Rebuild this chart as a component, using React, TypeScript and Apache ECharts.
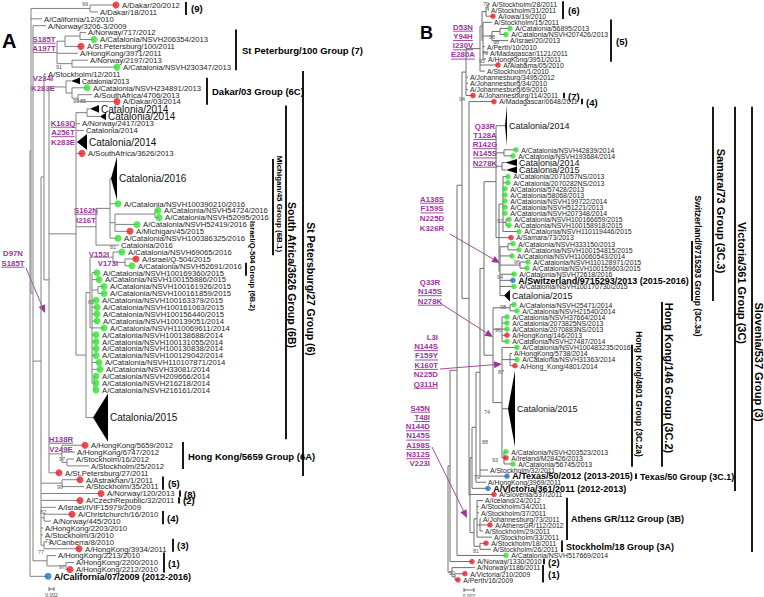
import React, { useEffect, useRef } from "react";
import * as echarts from "echarts";

type TNode = { d: number; c?: TNode[]; n?: string; dot?: string; tip?: number; rows?: number; y?: number; ti?: number };
const N = (d: number, c: TNode[]): TNode => ({ d, c });
const L = (d: number, n: string, dot?: string): TNode => ({ d, n, dot });
const T = (d: number, tip: number, rows: number, n: string): TNode => ({ d, n, tip, rows });

// ---------------- Panel A (depth = 0.001 substitutions/site from root) ----------------
const groupA7 = N(10.8, [
  N(14, [N(20, [L(22.4, "A/Norway/717/2012"), L(25.6, "A/Catalonia/NSVH206354/2013", "g")]), L(20.4, "A/St.Petersburg/100/2011", "r")]),
  L(19.2, "A/HongKong/3971/2011"),
  N(16.8, [L(23.2, "A/Norway/2197/2013"), L(34.8, "A/Catalonia/NSVH230347/2013", "g")]),
]);
const groupA6C = N(14.4, [
  T(16.4, 20, 1, "Catalonia/2013"),
  N(16.8, [L(22.8, "A/Catalonia/NSVH234891/2013", "g"), N(19.2, [L(24.8, "A/SouthAfrica/4706/2013"), L(34.8, "A/Dakar/03/2014", "r")])]),
]);
const groupA6B1 = N(26.4, [
  N(32, [
    T(32.4, 34.8, 6.3, "Catalonia/2016"),
    L(35.2, "A/Catalonia/NSVH100390210/2016", "g"),
    N(34, [
      N(50, [L(51.2, "A/Catalonia/NSVH54724/2016", "g"), L(51.6, "A/Catalonia/NSVH52095/2016", "g")]),
      L(42.8, "A/Catalonia/NSVH52419/2016", "g"),
      L(40, "A/Michigan/45/2015", "r"),
    ]),
    L(35.2, "A/Catalonia/NSVH100386325/2016", "g"),
  ]),
  L(35.6, "Catalonia/2016"),
]);
const groupA6B2 = N(22.4, [
  N(24, [
    N(33.2, [L(36.8, "A/Catalonia/NSVH69065/2016", "g"), N(38, [L(42.4, "A/Israel/Q-504/2015", "r"), L(40.8, "A/Catalonia/NSVH52691/2016", "g")])]),
    N(24.8, [
      L(26.8, "A/Catalonia/NSVH100169360/2015", "g"),
      L(27.6, "A/Catalonia/NSVH100155886/2015", "g"),
      N(27.2, [L(29.6, "A/Catalonia/NSVH100161926/2015", "g"), L(29.6, "A/Catalonia/NSVH100161859/2015", "g")]),
      L(26.4, "A/Catalonia/NSVH100163379/2015", "g"),
      L(26.8, "A/Catalonia/NSVH100161063/2015", "g"),
      L(26.8, "A/Catalonia/NSVH100156440/2015", "g"),
      L(26.8, "A/Catalonia/NSVH100139051/2014", "g"),
      L(29.6, "A/Catalonia/NSVH110069611/2014", "g"),
      L(26.4, "A/Catalonia/NSVH100138688/2014", "g"),
      L(26.4, "A/Catalonia/NSVH100131055/2014", "g"),
      L(26.4, "A/Catalonia/NSVH100130838/2014", "g"),
      L(26.4, "A/Catalonia/NSVH100129042/2014", "g"),
      L(27.6, "A/Catalonia/NSVH110107871/2014", "g"),
      L(28, "A/Catalonia/NSVH33081/2014", "g"),
      N(25.6, [L(26.4, "A/Catalonia/NSVH209666/2014", "g"), L(26.4, "A/Catalonia/NSVH216218/2014", "g"), L(26.4, "A/Catalonia/NSVH216161/2014", "g")]),
    ]),
  ]),
  T(25.2, 31.2, 7, "Catalonia/2015"),
]);
const groupA6B = N(18.4, [
  N(22.8, [T(24, 27.6, 1.1, "Catalonia/2014"), T(28, 30.4, 1.1, "Catalonia/2014")]),
  L(20, "A/Norway/2417/2013"),
  L(21.6, "Catalonia/2014"),
  T(18.8, 22.8, 2.3, "Catalonia/2014"),
  L(20.8, "A/SouthAfrica/3626/2013", "r"),
  groupA6B1,
  groupA6B2,
]);
const groupA6A = N(12.8, [
  L(22, "A/HongKong/5659/2012", "r"),
  L(18, "A/HongKong/6747/2012"),
  N(14.8, [L(17.6, "A/Stockholm/16/2012"), L(23.6, "A/Stockholm/25/2012")]),
]);
const groupA6 = N(5.6, [
  L(6.4, "A/Stockholm/12/2011"),
  N(7.6, [groupA6C, groupA6B, groupA6A, L(11.6, "A/St.Petersburg/27/2011", "r")]),
]);
const groupA5 = N(12.8, [L(20, "A/Astrakhan/1/2011", "r"), L(21.6, "A/Stockholm/35/2011")]);
const groupA4 = N(5.6, [L(16.8, "A/Christchurch/16/2010", "r"), L(8.4, "A/Norway/445/2010")]);
const groupA3 = N(5.6, [L(6.8, "A/Canberra/8/2010"), L(19.6, "A/HongKong/3934/2011", "r")]);
const groupA1 = N(6.8, [L(10.4, "A/HongKong/2213/2010"), N(14.4, [L(17.6, "A/HongKong/2200/2010"), L(16, "A/HongKong/2212/2010", "r")])]);
const treeA = N(0, [
  N(0.4, [
    N(24, [L(34.4, "A/Dakar/20/2012", "r"), L(27.2, "A/Dakar/18/2011")]),
    L(4.8, "A/California/12/2010"),
    N(1.2, [
      L(6.4, "A/Norway/3206-3/2009"),
      groupA7,
      N(4.4, [
        groupA6,
        groupA5,
        L(28.4, "A/Norway/120/2013", "r"),
        L(20, "A/CzechRepublic/32/2011", "r"),
        L(10.4, "A/Israel/IVIF15979/2009"),
        groupA4,
        L(5.2, "A/HongKong/2203/2010"),
        L(5.2, "A/Stockholm/3/2010"),
        groupA3,
      ]),
      groupA1,
    ]),
  ]),
  L(7.2, "A/California/07/2009", "b"),
]);

// ---------------- Panel B ----------------
const groupB6 = N(7.6, [N(8, [L(8.4, "A/Stockholm/28/2011"), L(8.2, "A/Stockholm/31/2011")]), L(9, "A/Iowa/19/2010", "r")]);
const groupB5 = N(7, [
  L(8.8, "A/Stockholm/15/2011"),
  N(8.8, [N(10.4, [L(12.4, "A/Catalonia/56895/2013", "g"), L(11.6, "A/Catalonia/NSVH207426/2013", "g")]), L(12, "A/Israel/20/2013")]),
  L(7.4, "A/Perth/10/2010"),
  L(8, "A/Madagascar/1121/2011"),
  L(7.6, "A/HongKong/3951/2011"),
]);
const groupB3C3a = N(10.4, [
  N(12, [L(13, "A/Catalonia/NSVH333150/2013", "g"), L(14.2, "A/Catalonia/NSVH100154815/2015", "g")]),
  L(12.8, "A/Catalonia/NSVH110060543/2014", "g"),
  N(14.4, [L(16, "A/Catalonia/NSVH110128971/2015", "g"), L(15.8, "A/Catalonia/NSVH100159603/2015", "g")]),
  L(13.2, "A/Catalonia/NSVH72618/2016", "g"),
  L(13, "A/Switzerland/9715293/2013", "b"),
  L(13.2, "A/Catalonia/NSVH100170730/2015", "g"),
  T(11.2, 12.4, 2, "Catalonia/2015"),
]);
const groupB3C3 = N(9.6, [
  T(11.4, 11.8, 6.9, "Catalonia/2014"),
  N(11.2, [L(13.6, "A/Catalonia/NSVH42839/2014", "g"), L(13, "A/Catalonia/NSVH193684/2014", "g")]),
  N(10.8, [T(11.4, 13.8, 1.2, "Catalonia/2014"), T(11.6, 13.8, 1.2, "Catalonia/2015")]),
  N(10.2, [
    N(11, [
      L(12, "A/Catalonia/2071057NS/2013", "g"),
      L(12, "A/Catalonia/2070282NS/2013", "g"),
      L(11.4, "A/Catalonia/57428/2013", "g"),
      L(11.4, "A/Catalonia/58068/2013", "g"),
      L(11.4, "A/Catalonia/NSVH199722/2014", "g"),
      L(11.4, "A/Catalonia/NSVH51221/2013", "g"),
      L(11.4, "A/Catalonia/NSVH207348/2014", "g"),
      N(11.6, [L(12.2, "A/Catalonia/NSVH100166659/2015", "g"), L(12.2, "A/Catalonia/NSVH100158918/2015", "g")]),
      L(14.2, "A/Catalonia/NSVH110119446/2015", "g"),
    ]),
    L(12.6, "A/Samara/73/2013", "r"),
    groupB3C3a,
  ]),
]);
const groupB3C2a = N(10.8, [
  L(13.8, "A/Catalonia/NSVH100483235/2016", "g"),
  N(12.4, [L(12.8, "A/HongKong/5738/2014"), L(13.8, "A/Catalonia/NSVH31363/2014", "g"), L(13.4, "A/Hong_Kong/4801/2014", "r")]),
  T(12, 13.4, 13.1, "Catalonia/2015"),
  N(11.2, [L(11.6, "A/Catalonia/NSVH203523/2013", "g"), L(11.6, "A/Ireland/M28426/2013", "r"), L(13, "A/Catalonia/56745/2013", "g")]),
]);
const groupB3C2 = N(9, [
  N(12.4, [L(13.2, "A/Catalonia/NSVH25471/2014", "g"), L(13.8, "A/Catalonia/NSVH21540/2014", "g")]),
  N(10.8, [
    L(11.8, "A/Catalonia/NSVH37664/2014", "g"),
    L(11.8, "A/Catalonia/2073825NS/2013", "g"),
    L(11.8, "A/Catalonia/2070883NS/2013", "g"),
    L(11.8, "A/HongKong/146/2013", "r"),
    L(11.8, "A/Catalonia/NSVH27487/2014", "g"),
  ]),
  groupB3C2a,
]);
const groupB3C = N(4.8, [
  N(5.6, [N(6.4, [N(7.2, [groupB3C3, groupB3C2]), L(8, "A/Stockholm/32/2011"), L(11.8, "A/Texas/50/2012", "b")]), L(7.6, "A/HongKong/3969/2011")]),
  L(8, "A/Victoria/361/2011", "b"),
]);
const groupB3 = N(4.4, [
  groupB3C,
  L(9.2, "A/Slovenia/537/2011", "r"),
  N(5.2, [
    N(5.8, [
      L(7, "A/Iceland/24/2012"),
      L(6.2, "A/Stockholm/34/2011"),
      L(6.2, "A/Stockholm/37/2011"),
      N(6.4, [L(6.6, "A/Johannesburg/73/2011"), L(8.4, "A/AthensGR/112/2012", "r"), L(7, "A/Stockholm/29/2011")]),
      L(8.8, "A/Stockholm/33/2011"),
    ]),
    N(6.4, [L(7.6, "A/Stockholm/18/2011", "r"), L(8.6, "A/Stockholm/26/2011")]),
  ]),
]);
const treeB = N(0, [
  N(0.4, [
    N(1.8, [
      N(2.8, [
        N(3.6, [
          N(6.4, [N(6.8, [groupB6, groupB5]), L(10, "A/Alabama/05/2010", "r"), L(7.4, "A/Stockholm/1/2010")]),
          L(4, "A/Johannesburg/3495/2012"),
          L(4, "A/Johannesburg/34/2010"),
          L(4, "A/Johannesburg/69/2010"),
          L(5, "A/Johannesburg/114/2011", "r"),
        ]),
        N(4.2, [L(9.2, "A/Madagascar/0648/2011", "r"), groupB3]),
      ]),
      L(11.6, "A/Catalonia/NSVH517669/2014", "g"),
    ]),
    L(4.8, "A/Norway/1330/2010", "r"),
  ]),
  N(0.8, [L(5.4, "A/Norway/1186/2011"), N(1.4, [L(3.4, "A/Victoria/210/2009", "r"), L(2, "A/Perth/16/2009", "r")])]),
]);

const vaccineSuffix: Record<string, string> = {
  "A/California/07/2009": " (2012-2016)",
  "A/Switzerland/9715293/2013": " (2015-2016)",
  "A/Texas/50/2012": " (2013-2015)",
  "A/Victoria/361/2011": " (2012-2013)",
};

// clades: [label, first leaf index, last leaf index]
const cladesA: [string, number, number][] = [
  ["(9)", 0, 1],
  ["St Peterburg/100 Group (7)", 4, 9],
  ["Dakar/03 Group (6C)", 11, 14],
  ["Michigan/45 Group (6B.1)", 21, 29],
  ["Israel/Q-504 Group (6B.2)", 31, 32],
  ["South Africa/3626 Group (6B)", 15, 50],
  ["St Petersburg/27 Group (6)", 10, 55],
  ["Hong Kong/5659 Group (6A)", 51, 54],
  ["(5)", 56, 57],
  ["(8)", 58, 58],
  ["(2)", 59, 59],
  ["(4)", 61, 62],
  ["(3)", 65, 66],
  ["(1)", 67, 69],
];
const cladesB: [string, number, number][] = [
  ["(6)", 0, 2],
  ["(5)", 3, 9],
  ["(7)", 15, 15],
  ["(4)", 16, 16],
  ["Samara/73 Group (3C.3)", 17, 41],
  ["Switzerland/9715293 Group (3C.3a)", 33, 41],
  ["Victoria/361 Group (3C)", 17, 60],
  ["Slovenia/537 Group (3)", 17, 70],
  ["Hong Kong/146 Group (3C.2)", 42, 56],
  ["Hong Kong/4801 Group (3C.2a)", 49, 56],
  ["Texas/50 Group (3C.1)", 58, 58],
  ["Athens GR/112 Group (3B)", 62, 68],
  ["Stockholm/18 Group (3A)", 69, 70],
  ["(2)", 72, 72],
  ["(1)", 73, 75],
];

const mutationsA = [
  ["S185T", "A197T"],
  ["V234I", "K283E"],
  ["K163Q", "A256T", "K283E"],
  ["S162N", "I216T"],
  ["V152I"],
  ["V173I"],
  ["D97N", "S185T"],
  ["H138R", "V249E"],
];
const mutationsB = [
  ["D53N", "Y94H", "I230V", "E280A"],
  ["Q33R", "T128A", "R142G", "N145S", "N278K"],
  ["A138S", "F159S", "N225D", "K326R"],
  ["Q33R", "N145S", "N278K"],
  ["L3I", "N144S", "F159Y", "K160T", "N225D", "Q311H"],
  ["S45N", "T48I", "N144D", "N145S", "A198S", "N312S", "V223I"],
];

const bootstrapA = ["99", "91", "99", "85", "81", "88", "97", "99", "82", "73", "77", "97"];
const bootstrapB = ["70", "98", "98", "70", "95", "94", "92", "96", "94", "98", "96", "87", "74", "88", "93", "79", "81", "92"];

// ---------------- presentation / layout ----------------
const FONT = '"Liberation Sans", Arial, sans-serif';
const DOT: Record<string, string> = { g: "#2ee32e", r: "#ec1c24", b: "#1f6fc8" };
const PURPLE = "#9b359b";

const cladeStyleA = [
  { x: 186, lx: 191, fs: 9.5 },
  { x: 236, lx: 242, fs: 9.5 },
  { x: 207, lx: 212, fs: 9.5 },
  { x: 273, lx: 279, fs: 8, vert: true, cy: 204 },
  { x: 246, lx: 252, fs: 7.5, vert: true, cy: 266 },
  { x: 286, lx: 292, fs: 10.5, vert: true, cy: 275 },
  { x: 303, lx: 311, fs: 10.5, vert: true, cy: 289 },
  { x: 183, lx: 188, fs: 9.5 },
  { x: 163, lx: 168, fs: 9.5 },
  { x: 180, lx: 184, fs: 9.5 },
  { x: 179, lx: 183, fs: 9.5 },
  { x: 163, lx: 167, fs: 9.5 },
  { x: 173, lx: 177, fs: 9.5 },
  { x: 164, lx: 168, fs: 9.5 },
];
const cladeStyleB = [
  { x: 563, lx: 568, fs: 9.5 },
  { x: 611, lx: 616, fs: 9.5 },
  { x: 564, lx: 568, fs: 9.5 },
  { x: 582, lx: 586, fs: 9.5 },
  { x: 713, lx: 721, fs: 11, vert: true, cy: 211 },
  { x: 692, lx: 698, fs: 8.5, vert: true, cy: 266 },
  { x: 735, lx: 742, fs: 11, vert: true, cy: 283 },
  { x: 752, lx: 759, fs: 11, vert: true, cy: 362 },
  { x: 662, lx: 669, fs: 11, vert: true, cy: 378 },
  { x: 632, lx: 639, fs: 8.5, vert: true, cy: 394 },
  { x: 636, lx: 640, fs: 9 },
  { x: 567, lx: 571, fs: 9 },
  { x: 562, lx: 566, fs: 9 },
  { x: 544, lx: 548, fs: 9.5 },
  { x: 543, lx: 548, fs: 9.5 },
];

const mutLayoutA = [
  { x: 44, y: 39, gap: 9.5, align: "center", ul: [1, 0] },
  { x: 43, y: 78, gap: 10, align: "center", ul: [0, 0] },
  { x: 63, y: 123, gap: 9.5, align: "center", ul: [1, 1, 0] },
  { x: 86, y: 210, gap: 10, align: "center", ul: [1, 0] },
  { x: 99, y: 254, gap: 9, align: "center", ul: [0] },
  { x: 108, y: 263, gap: 9, align: "center", ul: [0] },
  { x: 13, y: 253, gap: 10, align: "center", ul: [0, 1] },
  { x: 61, y: 439, gap: 10, align: "center", ul: [1, 0] },
];
const mutLayoutB = [
  { x: 463, y: 27, gap: 9.3, align: "center", ul: [1, 1, 1, 1] },
  { x: 485, y: 126, gap: 9.25, align: "center", ul: [0, 1, 1, 1, 1] },
  { x: 432, y: 199, gap: 9.7, align: "center", ul: [1, 1, 0, 0] },
  { x: 430, y: 282, gap: 9.5, align: "center", ul: [0, 1, 1] },
  { x: 438, y: 337, gap: 9.4, align: "right", ul: [0, 1, 1, 1, 0, 1] },
  { x: 430, y: 408, gap: 9.3, align: "right", ul: [1, 1, 1, 1, 1, 1, 0] },
];
const arrows = [
  [26, 268, 45, 313],
  [450, 234, 500, 263],
  [440, 303, 493, 337],
  [440, 369, 502, 364],
  [432, 447, 467, 518],
];
const bootPosA = [[85, 4], [59, 67], [76, 101], [83, 101], [113, 247], [91, 302], [62, 459], [60, 487], [43, 512], [48, 541], [41, 552], [62, 567]];
const bootPosB = [[486, 4], [492, 37], [496, 42], [485, 53], [482, 61], [462, 99], [500, 221], [517, 262], [500, 277], [503, 307], [498, 330], [501, 372], [487, 412], [485, 442], [495, 460], [477, 477], [476, 551], [452, 573]];

const panelStyle = [
  { line: "#808080", leafFs: 7.7, dot: 7, triFs: [7, 10, 10, 10, 10, 10], triHalf: 0.5 },
  { line: "#6e6e6e", leafFs: 6.9, dot: 5.5, triFs: [9, 9, 9, 9, 9], triHalf: 0.48 },
];

function layoutTree(root: TNode) {
  const segs: number[][] = [];
  const tris: number[][] = [];
  const leaves: TNode[] = [];
  let cursor = -0.5;
  const walk = (node: TNode, pd: number): number => {
    let y: number;
    if (!node.c) {
      const h = node.rows ?? 1;
      y = cursor + h / 2;
      cursor += h;
      leaves.push(node);
      if (node.tip !== undefined) {
        node.ti = tris.length;
        tris.push([node.d, node.tip, y, h]);
      }
    } else {
      const ys = node.c.map((ch) => walk(ch, node.d));
      y = (ys[0] + ys[ys.length - 1]) / 2;
      segs.push([node.d, ys[0], node.d, ys[ys.length - 1]]);
    }
    node.y = y;
    if (pd !== node.d) segs.push([pd, y, node.d, y]);
    return y;
  };
  walk(root, root.d);
  return { segs, tris, leaves };
}

function panelSeries(P: ReturnType<typeof layoutTree>, idx: number) {
  const st = panelStyle[idx];
  return [
    {
      type: "custom",
      xAxisIndex: idx,
      yAxisIndex: idx,
      silent: true,
      z: 1,
      data: P.segs,
      renderItem: (_p: any, api: any) => {
        const a = api.coord([api.value(0), api.value(1)]);
        const b = api.coord([api.value(2), api.value(3)]);
        return { type: "line", shape: { x1: a[0], y1: a[1], x2: b[0], y2: b[1] }, style: { stroke: st.line, lineWidth: 1 } };
      },
    },
    {
      type: "custom",
      xAxisIndex: idx,
      yAxisIndex: idx,
      silent: true,
      z: 2,
      data: P.tris,
      renderItem: (_p: any, api: any) => {
        const y = api.value(2);
        const h = api.value(3) * st.triHalf;
        const p0 = api.coord([api.value(0), y]);
        const p1 = api.coord([api.value(1), y - h]);
        const p2 = api.coord([api.value(1), y + h]);
        return { type: "polygon", shape: { points: [p0, p1, p2] }, style: { fill: "#000" } };
      },
    },
    {
      type: "scatter",
      xAxisIndex: idx,
      yAxisIndex: idx,
      silent: true,
      z: 3,
      symbolSize: st.dot,
      data: P.leaves.filter((l) => l.dot).map((l) => ({ value: [l.d, l.y], itemStyle: { color: DOT[l.dot as string] } })),
    },
    {
      type: "custom",
      xAxisIndex: idx,
      yAxisIndex: idx,
      silent: true,
      z: 4,
      data: P.leaves.map((l) => [l.tip ?? l.d, l.y]),
      renderItem: (p: any, api: any) => {
        const l = P.leaves[p.dataIndex];
        const c = api.coord([api.value(0), api.value(1)]);
        const vac = vaccineSuffix[l.n as string];
        let off = 2;
        let fs = st.leafFs;
        let weight = "normal";
        let fill = "#262626";
        if (l.dot) off = st.dot / 2 + 2.5;
        if (l.tip !== undefined) {
          fs = st.triFs[l.ti as number];
          fill = "#111";
        }
        if (vac) {
          fs = 9;
          weight = "bold";
          fill = "#000";
        }
        return {
          type: "text",
          x: c[0] + off,
          y: c[1] + 0.3,
          style: { text: (l.n as string) + (vac ?? ""), fill, fontSize: fs, fontWeight: weight, fontFamily: FONT, align: "left", verticalAlign: "middle" },
        };
      },
    },
  ];
}

export default function App() {
  const ref = useRef<HTMLDivElement>(null);
  useEffect(() => {
    document.body.style.margin = "0";
    const chart = echarts.init(ref.current as HTMLDivElement, undefined, { renderer: "svg" });
    const PA = layoutTree(treeA);
    const PB = layoutTree(treeB);
    chart.setOption({
      animation: false,
      grid: [
        { left: 30, top: 1.55, width: 340, height: 586.5, containLabel: false },
        { left: 448, top: 0.95, width: 316, height: 585.6, containLabel: false },
      ],
      xAxis: [
        { type: "value", gridIndex: 0, min: 0, max: 136, show: false },
        { type: "value", gridIndex: 1, min: 0, max: 63.2, show: false },
      ],
      yAxis: [
        { type: "value", gridIndex: 0, min: -0.5, max: 84.5, inverse: true, show: false },
        { type: "value", gridIndex: 1, min: -0.5, max: 95.5, inverse: true, show: false },
      ],
      series: [...panelSeries(PA, 0), ...panelSeries(PB, 1)],
    });

    const px = (gi: number, u: number, r: number) => chart.convertToPixel({ gridIndex: gi } as any, [u, r]) as number[];
    const canvas = document.createElement("canvas").getContext("2d") as CanvasRenderingContext2D;
    const textW = (t: string, fs: number, w: string) => {
      canvas.font = `${w} ${fs}px ${FONT}`;
      return canvas.measureText(t).width;
    };
    const els: any[] = [];

    const addClades = (P: ReturnType<typeof layoutTree>, clades: [string, number, number][], styles: any[], gi: number) => {
      clades.forEach((c, i) => {
        const s = styles[i];
        const l0 = P.leaves[c[1]];
        const l1 = P.leaves[c[2]];
        const y0 = px(gi, 0, (l0.y as number) - (l0.rows ?? 1) * 0.45)[1];
        const y1 = px(gi, 0, (l1.y as number) + (l1.rows ?? 1) * 0.45)[1];
        els.push({ type: "line", silent: true, shape: { x1: s.x, y1: y0, x2: s.x, y2: y1 }, style: { stroke: "#000", lineWidth: 1.8 } });
        if (s.vert) {
          els.push({
            type: "text",
            silent: true,
            x: s.lx,
            y: s.cy,
            rotation: -Math.PI / 2,
            style: { text: c[0], x: 0, y: 0, align: "center", verticalAlign: "middle", fontSize: s.fs, fontWeight: "bold", fontFamily: FONT, fill: "#000" },
          });
        } else {
          els.push({
            type: "text",
            silent: true,
            x: s.lx,
            y: (y0 + y1) / 2 + 0.5,
            style: { text: c[0], x: 0, y: 0, align: "left", verticalAlign: "middle", fontSize: s.fs, fontWeight: "bold", fontFamily: FONT, fill: "#000" },
          });
        }
      });
    };
    addClades(PA, cladesA, cladeStyleA, 0);
    addClades(PB, cladesB, cladeStyleB, 1);

    const addMutations = (muts: string[][], lay: any[]) => {
      muts.forEach((lines, gi) => {
        const s = lay[gi];
        lines.forEach((t, k) => {
          const y = s.y + k * s.gap;
          const fs = 7.8;
          els.push({
            type: "text",
            silent: true,
            x: s.x,
            y,
            style: { text: t, x: 0, y: 0, align: s.align, verticalAlign: "middle", fontSize: fs, fontWeight: "bold", fontFamily: FONT, fill: PURPLE },
          });
          if (s.ul[k]) {
            const w = textW(t, fs, "bold");
            const left = s.align === "center" ? s.x - w / 2 : s.align === "right" ? s.x - w : s.x;
            els.push({ type: "line", silent: true, shape: { x1: left, y1: y + 4.2, x2: left + w, y2: y + 4.2 }, style: { stroke: PURPLE, lineWidth: 0.9 } });
          }
        });
      });
    };
    addMutations(mutationsA, mutLayoutA);
    addMutations(mutationsB, mutLayoutB);

    arrows.forEach(([x1, y1, x2, y2]) => {
      const ang = Math.atan2(y2 - y1, x2 - x1);
      const len = 8;
      const wd = 3.5;
      const bx = x2 - len * Math.cos(ang);
      const by = y2 - len * Math.sin(ang);
      els.push({ type: "line", silent: true, shape: { x1, y1, x2: bx, y2: by }, style: { stroke: PURPLE, lineWidth: 0.9 } });
      els.push({
        type: "polygon",
        silent: true,
        shape: {
          points: [
            [x2, y2],
            [bx + wd * Math.sin(ang), by - wd * Math.cos(ang)],
            [bx - wd * Math.sin(ang), by + wd * Math.cos(ang)],
          ],
        },
        style: { fill: PURPLE },
      });
    });

    const addBoot = (vals: string[], pos: number[][]) => {
      vals.forEach((v, i) => {
        els.push({
          type: "text",
          silent: true,
          x: pos[i][0],
          y: pos[i][1],
          style: { text: v, x: 0, y: 0, align: "center", verticalAlign: "middle", fontSize: 5.5, fontFamily: FONT, fill: "#555" },
        });
      });
    };
    addBoot(bootstrapA, bootPosA);
    addBoot(bootstrapB, bootPosB);

    // scale bars (0.002 = 2 units on each panel's axis)
    const scaleBars = [
      { gi: 0, x: 49, y: 589 },
      { gi: 1, x: 464, y: 590 },
    ];
    scaleBars.forEach((s) => {
      const w = px(s.gi, 2, 0)[0] - px(s.gi, 0, 0)[0];
      els.push({ type: "line", silent: true, shape: { x1: s.x, y1: s.y, x2: s.x + w, y2: s.y }, style: { stroke: "#444", lineWidth: 0.8 } });
      els.push({ type: "line", silent: true, shape: { x1: s.x, y1: s.y - 2, x2: s.x, y2: s.y + 2 }, style: { stroke: "#444", lineWidth: 0.8 } });
      els.push({ type: "line", silent: true, shape: { x1: s.x + w, y1: s.y - 2, x2: s.x + w, y2: s.y + 2 }, style: { stroke: "#444", lineWidth: 0.8 } });
      els.push({
        type: "text",
        silent: true,
        x: s.x + w / 2,
        y: s.y + 5.5,
        style: { text: "0.002", x: 0, y: 0, align: "center", verticalAlign: "middle", fontSize: 5, fontFamily: FONT, fill: "#444" },
      });
    });

    els.push({ type: "text", silent: true, x: 2, y: 41, style: { text: "A", x: 0, y: 0, align: "left", verticalAlign: "middle", fontSize: 20, fontWeight: "bold", fontFamily: FONT, fill: "#000" } });
    els.push({ type: "text", silent: true, x: 420, y: 33, style: { text: "B", x: 0, y: 0, align: "left", verticalAlign: "middle", fontSize: 18, fontWeight: "bold", fontFamily: FONT, fill: "#000" } });

    chart.setOption({ graphic: { elements: els } });
    return () => chart.dispose();
  }, []);
  return <div ref={ref} style={{ width: 764, height: 597 }} />;
}
